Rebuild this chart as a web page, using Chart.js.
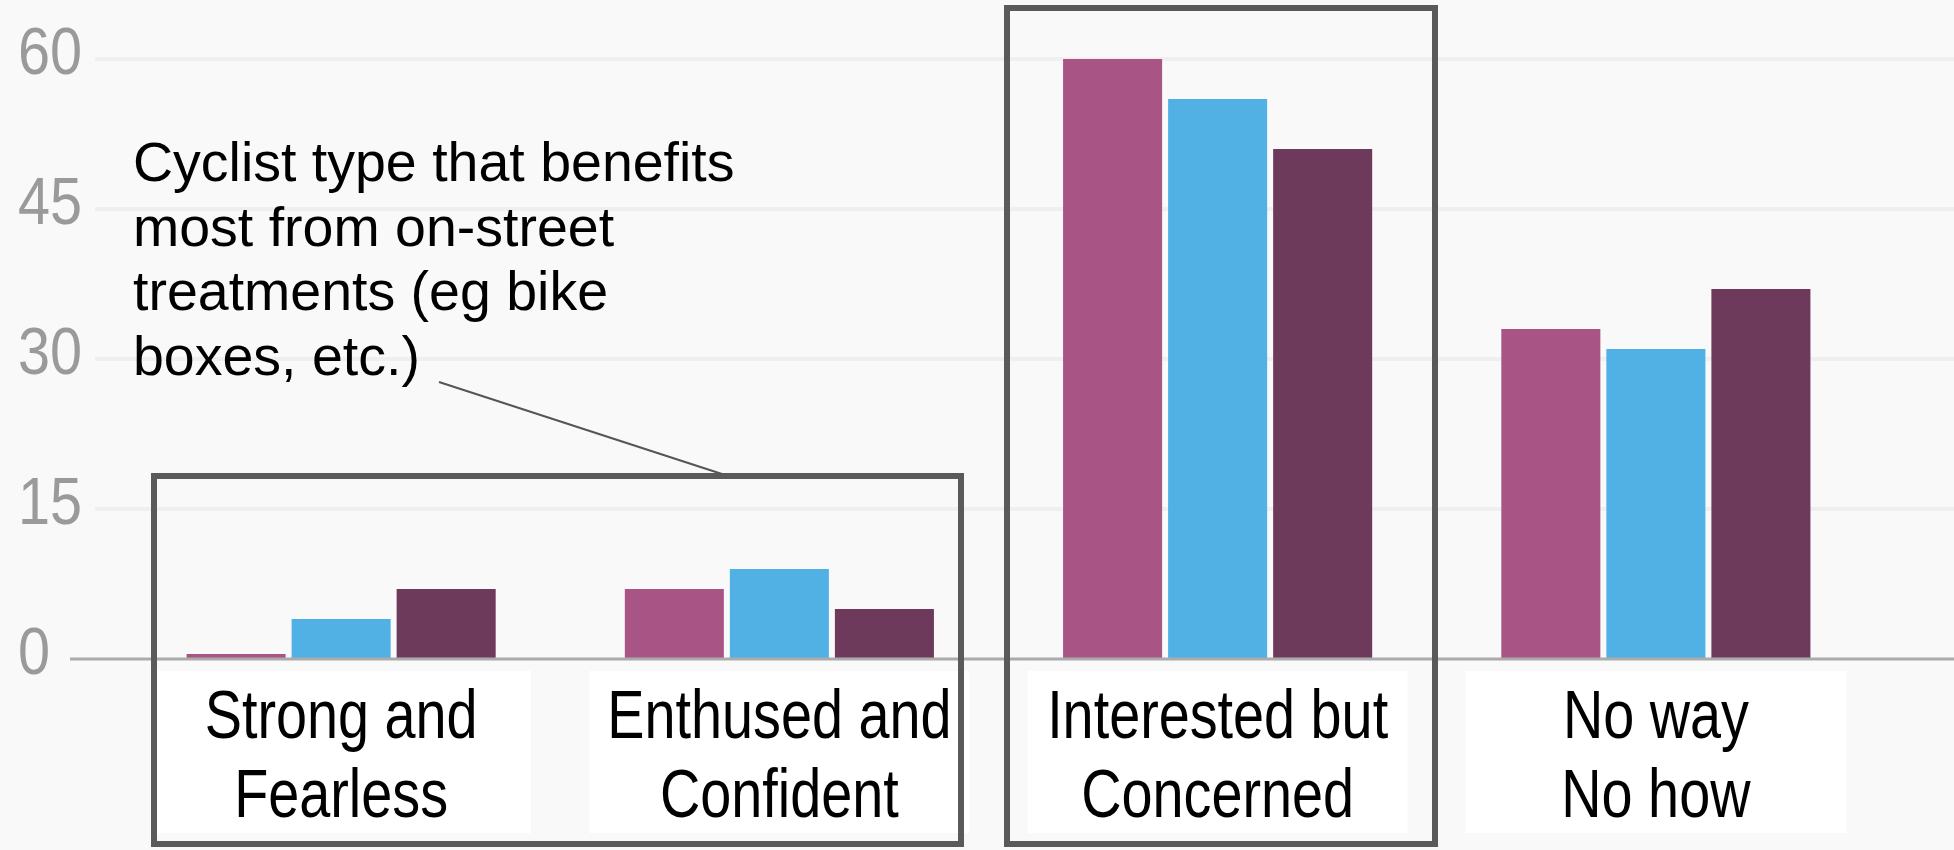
<!DOCTYPE html>
<html>
<head>
<meta charset="utf-8">
<script src="https://cdn.jsdelivr.net/npm/chart.js@4.4.1/dist/chart.umd.min.js"></script>
<style>
  html, body { margin: 0; padding: 0; background: #f9f9f9; }
  #wrap { width: 1954px; height: 850px; position: relative; }
</style>
</head>
<body>
<div id="wrap"><canvas id="c"></canvas></div>
<script>
// ---- data ----
const categories = [['Strong and', 'Fearless'], ['Enthused and', 'Confident'], ['Interested but', 'Concerned'], ['No way', 'No how']];
const seriesPink = [0.5, 7, 60, 33];
const seriesBlue = [4, 9, 56, 31];
const seriesPlum = [7, 5, 51, 37];
const yTickValues = [0, 15, 30, 45, 60];
const annotationLines = ['Cyclist type that benefits', 'most from on-street', 'treatments (eg bike', 'boxes, etc.)'];

const SANS = "'Liberation Sans', Arial, sans-serif";

// draw text horizontally condensed (narrow face look)
function narrowText(ctx, text, x, y, squeeze) {
  ctx.save();
  ctx.translate(x, y);
  ctx.scale(squeeze, 1);
  ctx.fillText(text, 0, 0);
  ctx.restore();
}

const decor = {
  id: 'decor',
  beforeDraw(chart) {
    const { ctx, scales: { x, y }, chartArea } = chart;
    ctx.save();
    ctx.fillStyle = '#f9f9f9';
    ctx.fillRect(0, 0, chart.width, chart.height);
    ctx.strokeStyle = '#efefef';
    ctx.lineWidth = 4;
    yTickValues.forEach(v => {
      if (v === 0) return;
      const py = y.getPixelForValue(v);
      ctx.beginPath(); ctx.moveTo(95, py); ctx.lineTo(chart.width, py); ctx.stroke();
    });
    ctx.fillStyle = '#ffffff';
    categories.forEach((c, i) => {
      const px = x.getPixelForTick(i);
      ctx.fillRect(px - 190, chartArea.bottom + 12, 380, 162);
    });
    ctx.restore();
  },
  afterDatasetsDraw(chart) {
    const { ctx, scales: { x, y }, chartArea } = chart;
    const py = y.getPixelForValue(0);
    ctx.save();
    ctx.strokeStyle = '#ababab';
    ctx.lineWidth = 3;
    ctx.beginPath(); ctx.moveTo(70, py); ctx.lineTo(chart.width, py); ctx.stroke();

    // y tick labels (condensed, light grey, left aligned)
    ctx.fillStyle = '#9a9a9a';
    ctx.font = '67px ' + SANS;
    ctx.textAlign = 'left';
    ctx.textBaseline = 'middle';
    yTickValues.forEach(v => narrowText(ctx, String(v), 18, y.getPixelForValue(v) - 3, 0.86));

    // x category labels (condensed, black, centered)
    ctx.fillStyle = '#000000';
    ctx.font = '68px ' + SANS;
    ctx.textAlign = 'center';
    ctx.textBaseline = 'alphabetic';
    categories.forEach((lines, i) => {
      const px = x.getPixelForTick(i);
      lines.forEach((t, j) => narrowText(ctx, t, px, chartArea.bottom + 79 + j * 79, 0.82));
    });
    ctx.restore();
  },
  afterDraw(chart) {
    const { ctx } = chart;
    ctx.save();
    ctx.strokeStyle = '#5a5a5a';
    ctx.lineWidth = 6;
    ctx.strokeRect(154, 476, 807, 368);
    ctx.strokeRect(1007, 8, 428, 836);
    ctx.lineWidth = 2;
    ctx.strokeStyle = '#555555';
    ctx.beginPath(); ctx.moveTo(439, 382); ctx.lineTo(722, 474); ctx.stroke();
    ctx.fillStyle = '#000000';
    ctx.font = '55.5px ' + SANS;
    ctx.textBaseline = 'alphabetic';
    ctx.textAlign = 'left';
    annotationLines.forEach((t, i) => ctx.fillText(t, 133, 181 + i * 64.5));
    ctx.restore();
  }
};

new Chart(document.getElementById('c'), {
  type: 'bar',
  data: {
    labels: categories,
    datasets: [
      { data: seriesPink, backgroundColor: '#a85585' },
      { data: seriesBlue, backgroundColor: '#51b0e4' },
      { data: seriesPlum, backgroundColor: '#6e3a5c' }
    ]
  },
  options: {
    responsive: true,
    maintainAspectRatio: false,
    animation: false,
    devicePixelRatio: 1,
    layout: { padding: { top: 59, left: 18, right: 79, bottom: 0 } },
    plugins: { legend: { display: false }, tooltip: { enabled: false } },
    datasets: { bar: { categoryPercentage: 0.719, barPercentage: 0.943, borderWidth: 0 } },
    scales: {
      x: {
        grid: { display: false, drawTicks: false },
        border: { display: false },
        ticks: { display: false },
        afterFit(scale) { scale.height = 191; }
      },
      y: {
        min: 0, max: 60,
        grid: { display: false, drawTicks: false },
        border: { display: false },
        afterBuildTicks(scale) { scale.ticks = yTickValues.map(v => ({ value: v })); },
        ticks: { display: false },
        afterFit(scale) { scale.width = 104; }
      }
    }
  },
  plugins: [decor]
});
</script>
</body>
</html>
